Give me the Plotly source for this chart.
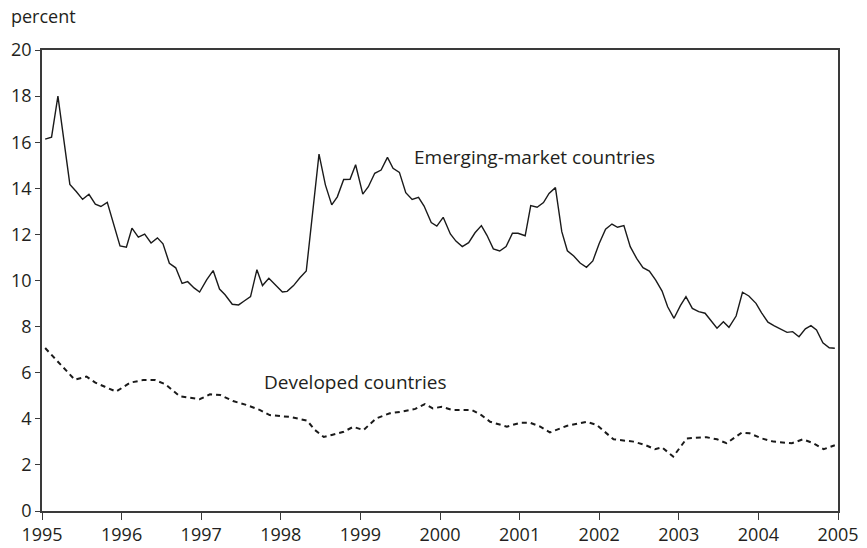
import plotly.graph_objects as go

# Emerging-market countries (decimal year, percent)
em_year = [1995.04, 1995.12, 1995.20, 1995.35, 1995.43, 1995.51, 1995.59, 1995.67, 1995.74, 1995.82,
           1995.98, 1996.06, 1996.13, 1996.21, 1996.29, 1996.37, 1996.45, 1996.52, 1996.60, 1996.68,
           1996.76, 1996.83, 1996.91, 1996.98, 1997.07, 1997.15, 1997.23, 1997.30, 1997.39, 1997.47,
           1997.54, 1997.62, 1997.70, 1997.77, 1997.85, 1997.94, 1998.02, 1998.08, 1998.16, 1998.24,
           1998.32, 1998.48, 1998.56, 1998.64, 1998.71, 1998.79, 1998.87, 1998.94, 1999.03, 1999.10,
           1999.18, 1999.26, 1999.34, 1999.41, 1999.49, 1999.57, 1999.65, 1999.73, 1999.80, 1999.89,
           1999.96, 2000.04, 2000.13, 2000.20, 2000.28, 2000.36, 2000.44, 2000.52, 2000.59, 2000.67,
           2000.75, 2000.83, 2000.91, 2000.98, 2001.07, 2001.14, 2001.22, 2001.30, 2001.37, 2001.45,
           2001.53, 2001.60, 2001.68, 2001.76, 2001.84, 2001.92, 2002.00, 2002.08, 2002.16, 2002.23,
           2002.31, 2002.39, 2002.47, 2002.55, 2002.63, 2002.71, 2002.79, 2002.86, 2002.94, 2003.02,
           2003.09, 2003.17, 2003.25, 2003.33, 2003.40, 2003.48, 2003.56, 2003.63, 2003.72, 2003.80,
           2003.88, 2003.97, 2004.04, 2004.12, 2004.20, 2004.27, 2004.36, 2004.43, 2004.51, 2004.59,
           2004.66, 2004.73, 2004.81, 2004.89, 2004.96]
em_val = [16.13, 16.22, 18.0, 14.17, 13.86, 13.52, 13.74, 13.31, 13.21, 13.39,
          11.5, 11.45, 12.27, 11.88, 12.01, 11.63, 11.85, 11.59, 10.75, 10.55,
          9.87, 9.95, 9.68, 9.5, 10.04, 10.43, 9.63, 9.38, 8.97, 8.94,
          9.11, 9.3, 10.47, 9.78, 10.1, 9.78, 9.5, 9.53, 9.78, 10.12,
          10.41, 15.48, 14.15, 13.28, 13.63, 14.38, 14.39, 15.02, 13.75, 14.07,
          14.65, 14.79, 15.34, 14.87, 14.69, 13.81, 13.52, 13.61, 13.23, 12.51,
          12.36, 12.74, 12.02, 11.71, 11.47, 11.64, 12.07, 12.38, 11.96, 11.37,
          11.28, 11.47, 12.05, 12.05, 11.94, 13.25, 13.18, 13.38, 13.78, 14.03,
          12.12, 11.29, 11.06, 10.76, 10.57, 10.85, 11.61, 12.23, 12.45, 12.31,
          12.38, 11.47, 10.96, 10.56, 10.41, 10.02, 9.54, 8.86, 8.36, 8.91,
          9.3, 8.79, 8.65, 8.58, 8.29, 7.93, 8.21, 7.97, 8.46, 9.49,
          9.33, 9.01, 8.6, 8.19, 8.03, 7.9, 7.75, 7.78, 7.56, 7.9,
          8.04, 7.85, 7.3, 7.08, 7.06]

# Developed countries (decimal year, percent)
dev_year = [1995.04, 1995.41, 1995.56, 1995.67, 1995.79, 1995.93, 1996.11, 1996.27, 1996.42, 1996.55,
            1996.73, 1996.86, 1996.98, 1997.11, 1997.24, 1997.40, 1997.57, 1997.74, 1997.86, 1998.12,
            1998.33, 1998.43, 1998.54, 1998.64, 1998.79, 1998.91, 1999.04, 1999.12, 1999.20, 1999.37,
            1999.52, 1999.69, 1999.81, 1999.91, 2000.02, 2000.16, 2000.40, 2000.52, 2000.63, 2000.84,
            2001.01, 2001.13, 2001.26, 2001.38, 2001.59, 2001.84, 2001.97, 2002.18, 2002.43, 2002.58,
            2002.70, 2002.79, 2002.93, 2003.10, 2003.35, 2003.48, 2003.60, 2003.79, 2003.89, 2004.04,
            2004.19, 2004.42, 2004.56, 2004.69, 2004.82, 2004.96]
dev_val = [7.07, 5.7, 5.83, 5.57, 5.39, 5.18, 5.57, 5.68, 5.68, 5.5,
           4.98, 4.92, 4.85, 5.06, 5.03, 4.77, 4.6, 4.38, 4.16, 4.08,
           3.92, 3.51, 3.21, 3.3, 3.44, 3.65, 3.51, 3.77, 4.02, 4.24,
           4.31, 4.43, 4.64, 4.45, 4.52, 4.38, 4.38, 4.16, 3.87, 3.66,
           3.83, 3.83, 3.66, 3.41, 3.69, 3.87, 3.73, 3.11, 3.01, 2.86,
           2.68, 2.76, 2.36, 3.15, 3.2, 3.11, 2.94, 3.4, 3.37, 3.15,
           3.01, 2.94, 3.11, 2.94, 2.68, 2.85]

year_ticks = [1995, 1996, 1997, 1998, 1999, 2000, 2001, 2002, 2003, 2004, 2005]
y_ticks = [0, 2, 4, 6, 8, 10, 12, 14, 16, 18, 20]

FONT = "Open Sans"
TXT = "#231f20"
AX = "#3a3a3a"

fig = go.Figure()
fig.add_trace(go.Scatter(x=em_year, y=em_val, mode="lines", hoverinfo="skip",
                         line=dict(color="#1a1a1a", width=1.4), showlegend=False))
fig.add_trace(go.Scatter(x=dev_year, y=dev_val, mode="lines", hoverinfo="skip",
                         line=dict(color="#1a1a1a", width=2, dash="5px,4px"), showlegend=False))

fig.add_annotation(x=1999.69, y=15.36, text="Emerging-market countries", showarrow=False,
                   xanchor="left", yanchor="middle", xshift=-3, font=dict(family=FONT, size=19, color=TXT))
fig.add_annotation(x=1997.80, y=5.6, text="Developed countries", showarrow=False,
                   xanchor="left", yanchor="middle", xshift=-3, font=dict(family=FONT, size=19, color=TXT))
fig.add_annotation(x=-0.042, y=1.074, xref="paper", yref="paper", text="percent", showarrow=False,
                   xanchor="left", yanchor="middle", font=dict(family=FONT, size=18, color=TXT))

fig.update_layout(
    width=867, height=548,
    margin=dict(l=42, r=29, t=50, b=37),
    paper_bgcolor="white", plot_bgcolor="white",
    font=dict(family=FONT, size=18, color=TXT),
)
fig.update_xaxes(range=[1995, 2005], tickvals=year_ticks, ticktext=[str(y) for y in year_ticks],
                 showgrid=False, zeroline=False, showline=True, linecolor=AX, linewidth=1.5,
                 mirror=True, ticks="outside", ticklen=7, tickcolor=AX, tickwidth=1.3,
                 automargin=False, tickfont=dict(family=FONT, size=18, color=TXT))
fig.update_yaxes(range=[0, 20], tickvals=y_ticks, showgrid=False, zeroline=False,
                 showline=True, linecolor=AX, linewidth=1.5, mirror=True,
                 ticks="outside", ticklen=5, tickcolor=AX, tickwidth=1.3,
                 automargin=False, tickfont=dict(family=FONT, size=18, color=TXT))

# remove the page's default 8px body margin so the figure fills the window
fig.write_html("out.html", config={"displayModeBar": False},
               post_script="document.body.style.margin='0';document.body.style.overflow='hidden';")
